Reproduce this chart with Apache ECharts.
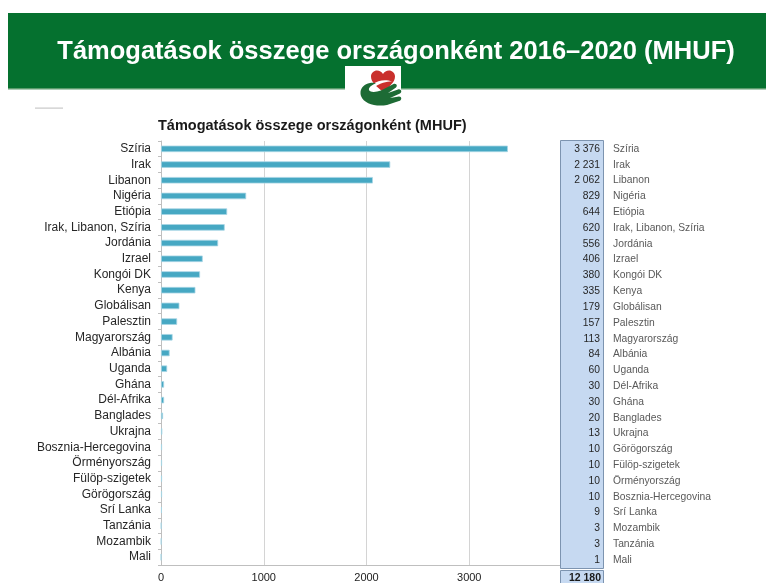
<!DOCTYPE html>
<html>
<head>
<meta charset="utf-8">
<script src="https://cdn.jsdelivr.net/npm/echarts@6/dist/echarts.min.js"></script>
<style>
  html, body { margin: 0; padding: 0; background: #fff; }
  #chart { width: 766px; height: 583px; }
</style>
</head>
<body>
<div id="chart"></div>
<script>
// bar chart (order as in the chart)
var barCategories = ['Szíria', 'Irak', 'Libanon', 'Nigéria', 'Etiópia', 'Irak, Libanon, Szíria', 'Jordánia',
  'Izrael', 'Kongói DK', 'Kenya', 'Globálisan', 'Palesztin', 'Magyarország', 'Albánia', 'Uganda', 'Ghána',
  'Dél-Afrika', 'Banglades', 'Ukrajna', 'Bosznia-Hercegovina', 'Örményország', 'Fülöp-szigetek',
  'Görögország', 'Srí Lanka', 'Tanzánia', 'Mozambik', 'Mali']
var barValues = [3376, 2231, 2062, 829, 644, 620, 556, 406, 380, 335, 179, 157, 113, 84, 60, 30,
  30, 20, 13, 10, 10, 10, 10, 9, 3, 3, 1]

// table on the right (its own order)
var tableNames = ['Szíria', 'Irak', 'Libanon', 'Nigéria', 'Etiópia', 'Irak, Libanon, Szíria', 'Jordánia',
  'Izrael', 'Kongói DK', 'Kenya', 'Globálisan', 'Palesztin', 'Magyarország', 'Albánia', 'Uganda', 'Dél-Afrika',
  'Ghána', 'Banglades', 'Ukrajna', 'Görögország', 'Fülöp-szigetek', 'Örményország', 'Bosznia-Hercegovina',
  'Srí Lanka', 'Mozambik', 'Tanzánia', 'Mali']
var tableValues = [3376, 2231, 2062, 829, 644, 620, 556, 406, 380, 335, 179, 157, 113, 84, 60, 30,
  30, 20, 13, 10, 10, 10, 10, 9, 3, 3, 1]
var tableTotal = '12 180'

var xTicks = [0, 1000, 2000, 3000, 4000]

function fmt(v) {
  return String(v).replace(/\B(?=(\d{3})+(?!\d))/g, ' ')
}

var chart = echarts.init(document.getElementById('chart'))

// logo (heart + hand) as a small inline svg
var logoSvg = '<svg xmlns="http://www.w3.org/2000/svg" width="56" height="44" viewBox="0 0 56 44">' +
  '<path fill="#c9302c" d="M37 26 C30 20 25 16 25 10.5 C25 7 28 4.5 31 4.5 C33.5 4.5 35.8 6 37 8 C38.2 6 40.5 4.5 43 4.5 C46 4.5 49 7 49 10.5 C49 16 44 20 37 26 Z"/>' +
  '<path fill="#fff" d="M27 18 C32 14 40 13 46 15.5 C40 15.5 34 17 29 21 Z"/>' +
  '<path fill="#1d6b35" d="M24 17 C17 18 13 24 15 30 C18 38 30 41 41 39 L53 35 C56 34 56 30.5 53 30.5 L44 32 L54 27.5 C56.5 26 55 22.5 52 23.5 ' +
  'L42 27 L50 21.5 C52 19.5 50 17 47.5 18 L35 24.5 C28 27 22 26 23 22.5 C24 20 27 18.5 30 17.5 C28 16.5 26 16.5 24 17 Z"/>' +
  '</svg>'
var logoUrl = 'data:image/svg+xml;charset=utf-8,' + encodeURIComponent(logoSvg)

chart.setOption({
  animation: false,
  textStyle: { fontFamily: 'Liberation Sans, Arial, sans-serif' },
  title: [{
    text: 'Támogatások összege országonként 2016–2020 (MHUF)',
    left: 391, top: 34, textAlign: 'center',
    textStyle: { color: '#fff', fontSize: 25.5, fontWeight: 'bold' }
  }, {
    text: 'Támogatások összege országonként (MHUF)',
    left: 153, top: 113,
    textStyle: { color: '#1a1a1a', fontSize: 14.5, fontWeight: 'bold' }
  }],
  graphic: [
    // green banner
    { type: 'rect', z: -1, shape: { x: 8, y: 13, width: 758, height: 76 }, style: { fill: '#05712f' } },
    { type: 'rect', z: -1, shape: { x: 8, y: 88, width: 758, height: 1.5 }, style: { fill: '#5a9c6c' } },
    // logo
    { type: 'rect', z: 0, shape: { x: 345, y: 66, width: 56, height: 44 }, style: { fill: '#fff' } },
    { type: 'image', z: 1, style: { image: logoUrl, x: 346, y: 66, width: 56, height: 44 } },
    // small grey dash
    { type: 'rect', shape: { x: 35, y: 107.5, width: 28, height: 1.2 }, style: { fill: '#c8c8c8' } },
    // table boxes
    { type: 'rect', z: 100, shape: { x: 560.5, y: 140.5, width: 43, height: 428 },
      style: { fill: '#c6d9f1', stroke: '#7d94b0', lineWidth: 1 } },
    { type: 'rect', z: 100, shape: { x: 560.5, y: 570.5, width: 43, height: 20 },
      style: { fill: '#c6d9f1', stroke: '#7d94b0', lineWidth: 1 } },
    { type: 'text', z: 102, x: 601, y: 578,
      style: { text: tableTotal, fill: '#1a1a1a', font: 'bold 10.5px Liberation Sans', textAlign: 'right', textVerticalAlign: 'middle' } }
  ],
  grid: [
    { left: 161, top: 141, width: 411, height: 427 },
    { left: 603, top: 141, width: 1, height: 427 }
  ],
  xAxis: [{
    gridIndex: 0,
    type: 'value',
    min: xTicks[0], max: xTicks[xTicks.length - 1], interval: 1000,
    axisLine: { show: true, lineStyle: { color: '#bfbfbf' } },
    axisTick: { show: false },
    axisLabel: {
      color: '#222', fontSize: 11, margin: 7, showMaxLabel: false,
      formatter: function (v) { return String(v) }
    },
    splitLine: { lineStyle: { color: '#d4d4d4', width: 1 } }
  }, {
    gridIndex: 1, type: 'value', show: false
  }],
  yAxis: [{
    gridIndex: 0,
    type: 'category',
    inverse: true,
    data: barCategories,
    axisLine: { lineStyle: { color: '#bfbfbf' } },
    axisTick: { show: true, length: 3, lineStyle: { color: '#bfbfbf' } },
    axisLabel: { color: '#262626', fontSize: 12, margin: 10, interval: 0 }
  }, {
    gridIndex: 1,
    type: 'category',
    inverse: true,
    position: 'left',
    z: 110,
    data: tableValues.map(fmt),
    axisLine: { show: false },
    axisTick: { show: false },
    axisLabel: { color: '#262626', fontSize: 10.3, margin: 3, interval: 0 }
  }, {
    gridIndex: 1,
    type: 'category',
    inverse: true,
    position: 'right',
    z: 110,
    data: tableNames,
    axisLine: { show: false },
    axisTick: { show: false },
    axisLabel: { color: '#595959', fontSize: 10.3, margin: 9, interval: 0 }
  }],
  series: [{
    type: 'bar',
    xAxisIndex: 0,
    yAxisIndex: 0,
    data: barValues,
    barWidth: 6.5,
    itemStyle: { color: '#46a8c3', borderColor: '#a8d6e4', borderWidth: 0.8 }
  }]
})
</script>
</body>
</html>
